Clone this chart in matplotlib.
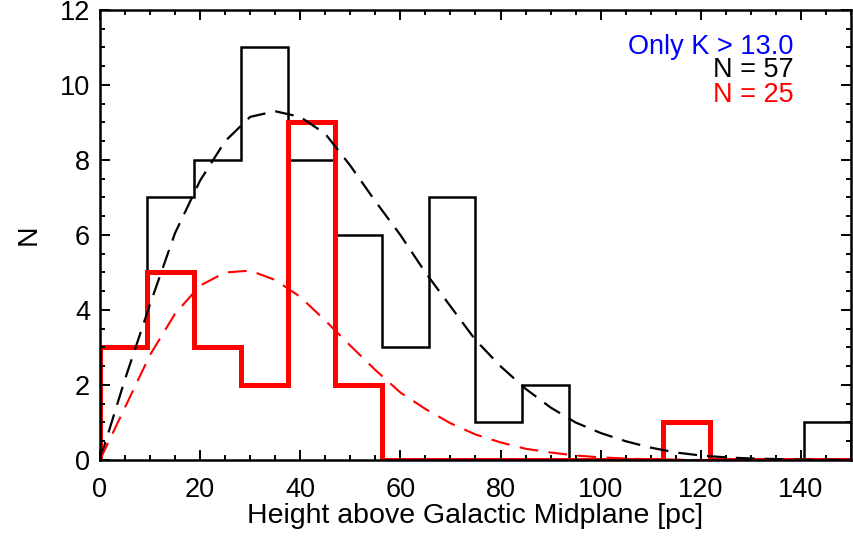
import numpy as np
import matplotlib
matplotlib.use("Agg")
import matplotlib.pyplot as plt
from matplotlib.ticker import MultipleLocator

plt.rcParams['font.family'] = ['Liberation Sans', 'DejaVu Sans']

# histogram bins: 16 bins over 0-150 pc
bin_edges = np.linspace(0, 150, 17)
counts_all = [3, 7, 8, 11, 8, 6, 3, 7, 1, 2, 0, 0, 0, 0, 0, 1]
counts_faint = [3, 5, 3, 2, 9, 2, 0, 0, 0, 0, 0, 0, 1, 0, 0, 0]

# fitted curves
fit_x = [0, 5, 10, 15, 20, 25, 30, 35, 40, 45, 50, 55, 60, 65, 70, 75, 80,
         85, 90, 95, 100, 105, 110, 115, 120, 125, 130, 140, 150]
fit_all = [0, 2.15, 4.15, 6.05, 7.45, 8.5, 9.15, 9.3, 9.15, 8.7, 7.85, 6.9,
           6.0, 5.0, 4.1, 3.2, 2.5, 1.9, 1.4, 1.0, 0.72, 0.5, 0.33, 0.2,
           0.12, 0.07, 0.04, 0.01, 0.0]
fit_faint = [0, 1.4, 2.8, 3.9, 4.65, 5.0, 5.05, 4.8, 4.35, 3.72, 3.05, 2.4,
             1.8, 1.36, 0.98, 0.68, 0.47, 0.3, 0.2, 0.12, 0.07, 0.04, 0.02,
             0.01, 0.0, 0.0, 0.0, 0.0, 0.0]

fig = plt.figure(figsize=(8.54, 5.37), dpi=100)
ax = fig.add_axes([0.117, 0.1434, 0.8795, 0.838])

ax.stairs(counts_all, bin_edges, baseline=0, color='black', lw=1.8)
ax.stairs(counts_faint, bin_edges, baseline=0, color='red', lw=3.6)
ax.plot(fit_x, fit_all, color='black', lw=1.6, dashes=(8.5, 4.5))
ax.plot(fit_x, fit_faint, color='red', lw=1.5, dashes=(9, 5))

ax.set_xlim(0, 150)
ax.set_ylim(0, 12)
ax.xaxis.set_major_locator(MultipleLocator(20))
ax.xaxis.set_minor_locator(MultipleLocator(5))
ax.yaxis.set_major_locator(MultipleLocator(2))
ax.yaxis.set_minor_locator(MultipleLocator(0.5))
ax.tick_params(which='both', direction='in', top=True, right=True, width=1.4,
               labelsize=19.5)
ax.tick_params(which='major', length=7)
ax.tick_params(which='minor', length=3.5)
ax.tick_params(axis='x', which='major', pad=12)
ax.tick_params(axis='y', which='major', pad=7)
for sp in ax.spines.values():
    sp.set_linewidth(1.8)

ax.set_xlabel('Height above Galactic Midplane [pc]', fontsize=20.5, labelpad=0)
ax.set_ylabel('N', fontsize=20.5, labelpad=13)

ax.text(0.923, 0.918, 'Only K > 13.0', color='blue', fontsize=19.5,
        ha='right', va='center', transform=ax.transAxes)
ax.text(0.923, 0.866, 'N = 57', color='black', fontsize=19.5,
        ha='right', va='center', transform=ax.transAxes)
ax.text(0.923, 0.811, 'N = 25', color='red', fontsize=19.5,
        ha='right', va='center', transform=ax.transAxes)

fig.savefig('out.png', dpi=100)
